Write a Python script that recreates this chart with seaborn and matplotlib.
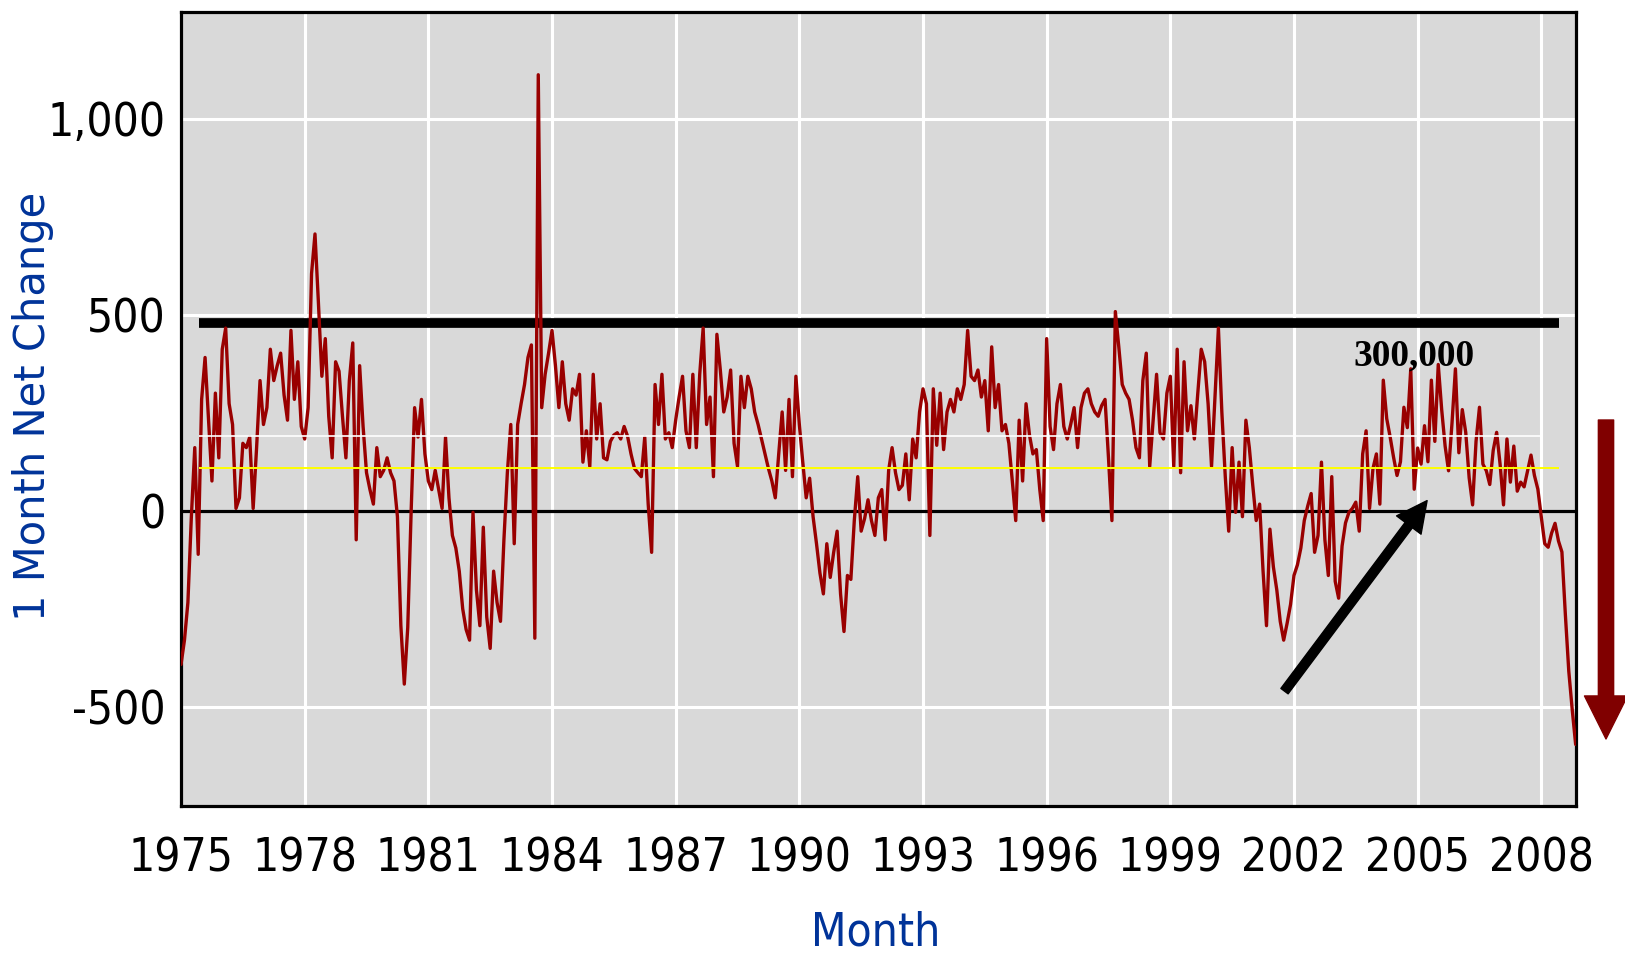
import numpy as np
import pandas as pd
import seaborn as sns
import matplotlib.pyplot as plt
from matplotlib import font_manager

# 1 month net change in payroll jobs (thousands), Jan 1975 - Nov 2008
change_1975_1979 = [
    -392, -330, -234, -17, 161, -111, 284, 391, 231, 76, 300, 135,
    412, 466, 273, 220, 6, 33, 172, 161, 188, 6, 161, 332,
    220, 263, 412, 332, 370, 402, 295, 231, 460, 284, 380, 215,
    183, 263, 605, 706, 530, 343, 439, 241, 135, 380, 356, 241,
    135, 332, 428, -74, 370, 215, 97, 54, 17, 161, 87, 103,
]
change_1980s = [
    135, 97, 76, -15, -293, -442, -298, 1, 263, 188, 284, 145,
    76, 54, 103, 54, 6, 188, 33, -63, -95, -154, -250, -303,
    -330, -4, -202, -293, -42, -271, -351, -154, -234, -282, -74, 97,
    220, -84, 220, 273, 322, 391, 423, -325, 1112, 263, 348, 402,
    460, 370, 263, 380, 273, 231, 311, 295, 348, 124, 204, 113,
    348, 183, 273, 135, 130, 177, 193, 199, 183, 215, 190, 145,
    108, 97, 87, 188, 17, -106, 322, 220, 348, 183, 199, 161,
    231, 290, 343, 204, 161, 348, 161, 348, 466, 220, 290, 87,
    450, 359, 252, 290, 359, 172, 113, 343, 263, 343, 311, 252,
    220, 183, 145, 108, 76, 33, 145, 252, 103, 284, 87, 343,
]
change_1990s = [
    220, 124, 33, 83, -15, -84, -159, -212, -84, -170, -106, -52,
    -212, -308, -165, -175, -25, 87, -52, -20, 28, -25, -63, 33,
    54, -74, 103, 161, 97, 54, 65, 145, 28, 183, 135, 252,
    311, 273, -63, 311, 167, 300, 156, 252, 284, 252, 311, 284,
    322, 460, 343, 332, 359, 290, 332, 204, 418, 263, 322, 204,
    220, 172, 76, -25, 231, 76, 273, 193, 145, 156, 54, -25,
    439, 215, 156, 273, 322, 215, 183, 220, 263, 161, 263, 300,
    311, 273, 252, 241, 268, 284, 135, -25, 508, 418, 322, 300,
    284, 231, 161, 135, 332, 402, 113, 231, 348, 199, 183, 300,
    343, 113, 412, 97, 380, 204, 268, 183, 300, 412, 380, 273,
]
change_2000s = [
    113, 290, 466, 252, 87, -52, 161, -4, 124, -15, 231, 161,
    65, -25, 17, -154, -293, -47, -143, -202, -282, -330, -287, -239,
    -165, -138, -95, -25, 12, 44, -106, -63, 124, -74, -165, 87,
    -180, -223, -90, -31, -4, 6, 22, -52, 145, 204, 6, 108,
    145, 17, 333, 235, 188, 136, 90, 125, 264, 212, 362, 55,
    160, 119, 217, 125, 333, 177, 373, 258, 165, 102, 223, 362,
    148, 258, 200, 84, 15, 177, 264, 119, 102, 67, 154, 200,
    119, 15, 183, 73, 165, 50, 73, 61, 102, 142, 90, 55,
    -16, -84, -93, -57, -32, -77, -105, -264, -409, -507, -596,
]

year_ticks = list(range(1975, 2009, 3))
year_labels = [str(y) for y in year_ticks]
y_ticks = [-500, 0, 500, 1000]
y_labels = ['-500', '0', '500', '1,000']

# hand-drawn marks on the chart
band_top = 480        # thick black line
band_mid = 191        # thin white line
band_avg = 110        # yellow line
band_start, band_end, mid_end = 1975.43, 2008.42, 2008.03
arrow_from = (2001.77, -460)
arrow_to = (2005.23, 26)
note_text = '300,000'
note_pos = (2004.9, 395)

values = change_1975_1979 + change_1980s + change_1990s + change_2000s
months = pd.date_range('1975-01-01', periods=len(values), freq='MS')
df = pd.DataFrame({'month': months.year + (months.month - 1) / 12, 'change': values})

sns.set_style('white')

# pick a narrow face for the tick labels if one is installed
narrow_faces = [f for f in font_manager.fontManager.ttflist
                if ('Narrow' in f.name or 'Condensed' in f.name or f.stretch in ('condensed', 'semi-condensed'))
                and f.weight in (400, 'normal', 'regular') and f.style == 'normal']
if narrow_faces:
    tick_font = dict(fname=narrow_faces[0].fname)
else:
    tick_font = dict(family='Liberation Sans')

fig = plt.figure(figsize=(16.25, 9.55), dpi=100)
ax = fig.add_axes([0.1114, 0.156, 0.8584, 0.831])
ax.set_facecolor('#d9d9d9')

sns.lineplot(data=df, x='month', y='change', ax=ax, color='#990000', linewidth=2.4, zorder=3)

ax.axhline(0, color='black', linewidth=2.3, zorder=2)
ax.hlines(band_top, band_start, band_end, color='black', linewidth=7, zorder=2.5)
ax.hlines(band_mid, band_start, mid_end, color='white', linewidth=1.2, zorder=4)
ax.hlines(band_avg, band_start, band_end, color='#ffff00', linewidth=1.4, zorder=4)

ax.annotate('', xy=arrow_to, xytext=arrow_from,
            arrowprops=dict(facecolor='black', edgecolor='black', width=6.5,
                            headwidth=22, headlength=22, shrink=0), zorder=5)
ax.text(note_pos[0], note_pos[1], note_text, ha='center', va='center', color='black',
        fontsize=27, fontweight='bold', family='Liberation Serif', zorder=5)

# maroon arrow on the right, outside the plot
ax.annotate('', xy=(1606, 955 - 739), xytext=(1606, 955 - 420),
            xycoords='figure pixels', textcoords='figure pixels',
            arrowprops=dict(facecolor='#800000', edgecolor='#800000', width=11,
                            headwidth=31, headlength=31, shrink=0),
            annotation_clip=False)

ax.set_xlim(1975, 2008.84)
ax.set_ylim(-753, 1271)
ax.set_xticks(year_ticks)
ax.set_yticks(y_ticks)
if 'fname' in tick_font:
    fp = font_manager.FontProperties(fname=tick_font['fname'], size=33)
    ax.set_xticklabels(year_labels, fontproperties=fp)
    ax.set_yticklabels(y_labels, fontproperties=fp)
else:
    ax.set_xticklabels(year_labels, family='Liberation Sans', fontsize=30)
    ax.set_yticklabels(y_labels, family='Liberation Sans', fontsize=30)
ax.grid(True, color='white', linewidth=2.2)
ax.set_axisbelow(True)
ax.tick_params(axis='x', direction='out', length=13, width=2, pad=9, colors='black')
ax.tick_params(axis='y', direction='out', length=10, width=2.2, pad=1, colors='black')
for side in ['left', 'right', 'top', 'bottom']:
    ax.spines[side].set_color('black')
    ax.spines[side].set_linewidth(2.3)

ax.set_ylabel('1 Month Net Change', color='#003399', fontsize=30, family='DejaVu Sans')
ax.yaxis.set_label_coords(-0.091, 0.503)
if 'fname' in tick_font:
    ax.set_xlabel('Month', color='#003399',
                  fontproperties=font_manager.FontProperties(fname=tick_font['fname'], size=33))
else:
    ax.set_xlabel('Month', color='#003399', fontsize=31, family='Liberation Sans')
ax.xaxis.set_label_coords(0.498, -0.132)

fig.savefig('out.png', dpi=100)
